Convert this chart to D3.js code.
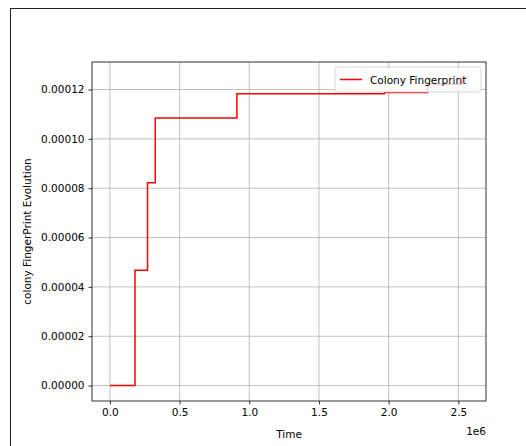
<!DOCTYPE html>
<html>
<head>
<meta charset="utf-8">
<script src="https://cdn.jsdelivr.net/npm/d3@7"></script>
<style>
  body { margin: 0; background: #fff; }
  text { font-family: "DejaVu Sans", sans-serif; fill: #000; }
</style>
</head>
<body>
<div id="chart"></div>
<script>
// step data (time in units of 1e6, fingerprint value)
const times = [0, 0.18, 0.27, 0.325, 0.911, 1.97, 2.28, 2.53, 2.57];
const values = [0, 4.67e-5, 8.22e-5, 1.084e-4, 1.183e-4, 1.188e-4, 1.221e-4, 1.249e-4, 1.249e-4];
const xTicks = [0, 0.5, 1.0, 1.5, 2.0, 2.5];
const yTicks = [0, 2e-5, 4e-5, 6e-5, 8e-5, 1e-4, 1.2e-4];
const seriesName = 'Colony Fingerprint';

const W = 526, H = 446;
const margin = { top: 62, left: 92, right: 40, bottom: 45 };
const iw = W - margin.left - margin.right,
      ih = H - margin.top - margin.bottom;

const data = times.map((t, i) => ({ t, v: values[i] }));

// matplotlib-style 5% padding
const xr = d3.extent(times), yr = d3.extent(values);
const xpad = (xr[1] - xr[0]) * 0.05, ypad = (yr[1] - yr[0]) * 0.05;

const x = d3.scaleLinear().domain([xr[0] - xpad, xr[1] + xpad]).range([0, iw]);
const y = d3.scaleLinear().domain([yr[0] - ypad, yr[1] + ypad]).range([ih, 0]);

const svg = d3.select('#chart').append('svg')
  .attr('width', W).attr('height', H);

// figure frame (clipped by window)
svg.append('rect')
  .attr('x', 10.5).attr('y', 8.5)
  .attr('width', W + 20).attr('height', H + 20)
  .attr('fill', 'none').attr('stroke', '#222').attr('stroke-width', 1);

const g = svg.append('g').attr('transform', `translate(${margin.left},${margin.top})`);

// grid
g.append('g').selectAll('line').data(xTicks).join('line')
  .attr('x1', d => x(d)).attr('x2', d => x(d))
  .attr('y1', 0).attr('y2', ih)
  .attr('stroke', '#b0b0b0').attr('stroke-width', 0.8);
g.append('g').selectAll('line').data(yTicks).join('line')
  .attr('y1', d => y(d)).attr('y2', d => y(d))
  .attr('x1', 0).attr('x2', iw)
  .attr('stroke', '#b0b0b0').attr('stroke-width', 0.8);

// step line (steps-post)
const line = d3.line().curve(d3.curveStepAfter)
  .x(d => x(d.t)).y(d => y(d.v));
g.append('path').datum(data)
  .attr('d', line)
  .attr('fill', 'none').attr('stroke', 'red').attr('stroke-width', 1.5);

// axes
const xAxis = g.append('g').attr('transform', `translate(0,${ih})`)
  .call(d3.axisBottom(x).tickValues(xTicks).tickFormat(d3.format('.1f')).tickSize(3.5).tickPadding(4));
const yAxis = g.append('g')
  .call(d3.axisLeft(y).tickValues(yTicks).tickFormat(d3.format('.5f')).tickSize(3.5).tickPadding(4));
[xAxis, yAxis].forEach(a => {
  a.select('.domain').remove();
  a.selectAll('text').attr('font-size', 10.5).attr('font-family', '"DejaVu Sans", sans-serif');
  a.selectAll('line').attr('stroke', '#000').attr('stroke-width', 0.8);
});

// spines
g.append('rect').attr('width', iw).attr('height', ih)
  .attr('fill', 'none').attr('stroke', '#000').attr('stroke-width', 0.8);

// labels
svg.append('text')
  .attr('x', margin.left + iw / 2).attr('y', H - 8)
  .attr('text-anchor', 'middle').attr('font-size', 10.5)
  .text('Time');
svg.append('text')
  .attr('x', margin.left + iw).attr('y', H - 11)
  .attr('text-anchor', 'end').attr('font-size', 10.5)
  .text('1e6');
svg.append('text')
  .attr('transform', `translate(31,${margin.top + ih / 2}) rotate(-90)`)
  .attr('text-anchor', 'middle').attr('font-size', 10.5)
  .text('colony FingerPrint Evolution');

// legend
const lg = g.append('g').attr('transform', `translate(${iw - 151},5)`);
lg.append('rect').attr('width', 146).attr('height', 25).attr('rx', 2.5)
  .attr('fill', '#fff').attr('fill-opacity', 0.8)
  .attr('stroke', '#ccc').attr('stroke-width', 0.8);
lg.append('line').attr('x1', 5).attr('x2', 27).attr('y1', 12.5).attr('y2', 12.5)
  .attr('stroke', 'red').attr('stroke-width', 1.5);
lg.append('text').attr('x', 35).attr('y', 16.5).attr('font-size', 10.5)
  .text(seriesName);
</script>
</body>
</html>
